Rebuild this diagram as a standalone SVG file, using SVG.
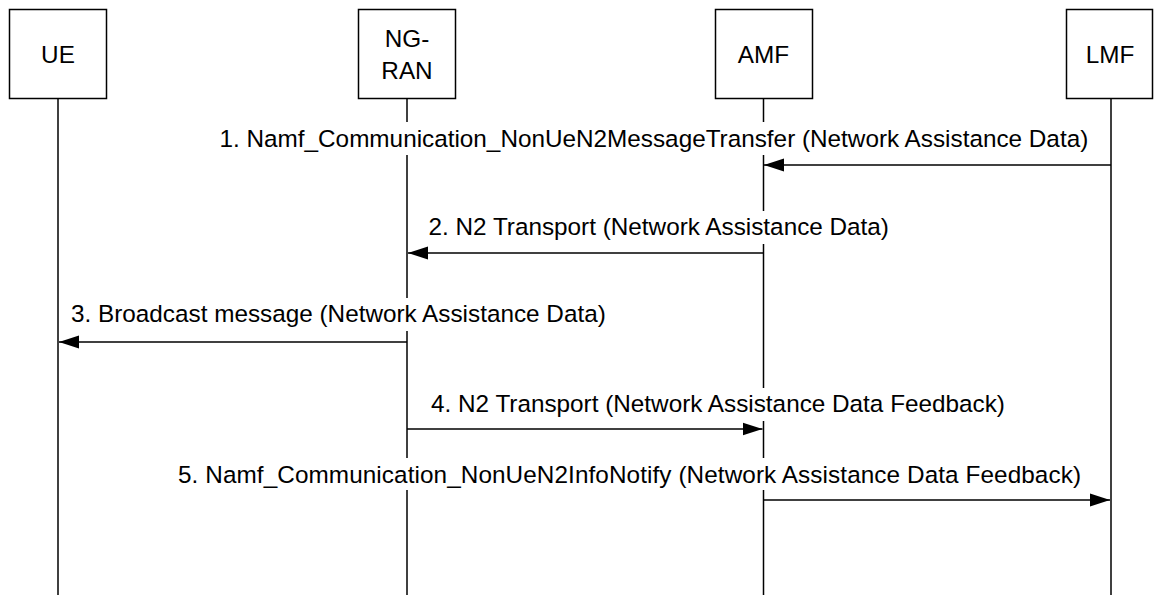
<svg xmlns="http://www.w3.org/2000/svg" width="1154" height="595" viewBox="0 0 1154 595">
<style>
.box{fill:#fff;stroke:#000;stroke-width:1.5}
.life{stroke:#000;stroke-width:1.5;fill:none}
.msg{stroke:#000;stroke-width:1.5;fill:none;marker-end:url(#ah)}
.t{font-family:"Liberation Sans",Arial,sans-serif;font-size:24.3px;fill:#000}
.bg{fill:#fff;stroke:none}
</style>
<defs>
<marker id="ah" markerUnits="userSpaceOnUse" markerWidth="22" markerHeight="14" refX="20" refY="7" orient="auto">
<path d="M0,0.5 L20,7 L0,13.5 Z" fill="#000"/>
</marker>
</defs>
<rect width="1154" height="595" fill="#fff"/>
<g id="lifelines">
<line class="life" x1="58" y1="99" x2="58" y2="595"/>
<line class="life" x1="407" y1="99" x2="407" y2="595"/>
<line class="life" x1="763.5" y1="99" x2="763.5" y2="595"/>
<line class="life" x1="1111" y1="99" x2="1111" y2="595"/>
</g>
<g id="node-ue">
<rect class="box" x="9.5" y="9.5" width="97" height="89"/>
<text class="t" x="58" y="63" text-anchor="middle">UE</text>
</g>
<g id="node-ngran">
<rect class="box" x="358.5" y="9.5" width="97" height="89"/>
<text class="t" x="407" y="47" text-anchor="middle">NG-</text>
<text class="t" x="407" y="79" text-anchor="middle">RAN</text>
</g>
<g id="node-amf">
<rect class="box" x="715.5" y="9.5" width="97" height="89"/>
<text class="t" x="763.5" y="63" text-anchor="middle">AMF</text>
</g>
<g id="node-lmf">
<rect class="box" x="1066.5" y="9.5" width="86" height="89"/>
<text class="t" x="1110" y="63" text-anchor="middle">LMF</text>
</g>
<g id="connectors">
<line class="msg" x1="1111" y1="165" x2="764" y2="165"/>
<rect class="bg" x="218" y="122" width="872" height="33"/>
<text class="t" x="219.5" y="147">1. Namf_Communication_NonUeN2MessageTransfer (Network Assistance Data)</text>

<line class="msg" x1="763.5" y1="253" x2="408" y2="253"/>
<rect class="bg" x="426" y="211" width="470" height="33"/>
<text class="t" x="428.5" y="235">2. N2 Transport (Network Assistance Data)</text>

<line class="msg" x1="407" y1="342" x2="59" y2="342"/>
<rect class="bg" x="69" y="298" width="490" height="33"/>
<text class="t" x="71" y="322">3. Broadcast message (Network Assistance Data)</text>

<line class="msg" x1="407" y1="429" x2="762.5" y2="429"/>
<rect class="bg" x="429" y="388" width="622" height="33"/>
<text class="t" x="431" y="412">4. N2 Transport (Network Assistance Data Feedback)</text>

<line class="msg" x1="763.5" y1="500" x2="1110" y2="500"/>
<rect class="bg" x="176" y="458" width="910" height="32"/>
<text class="t" x="178" y="483" textLength="903" lengthAdjust="spacing">5. Namf_Communication_NonUeN2InfoNotify (Network Assistance Data Feedback)</text>
</g>
</svg>
